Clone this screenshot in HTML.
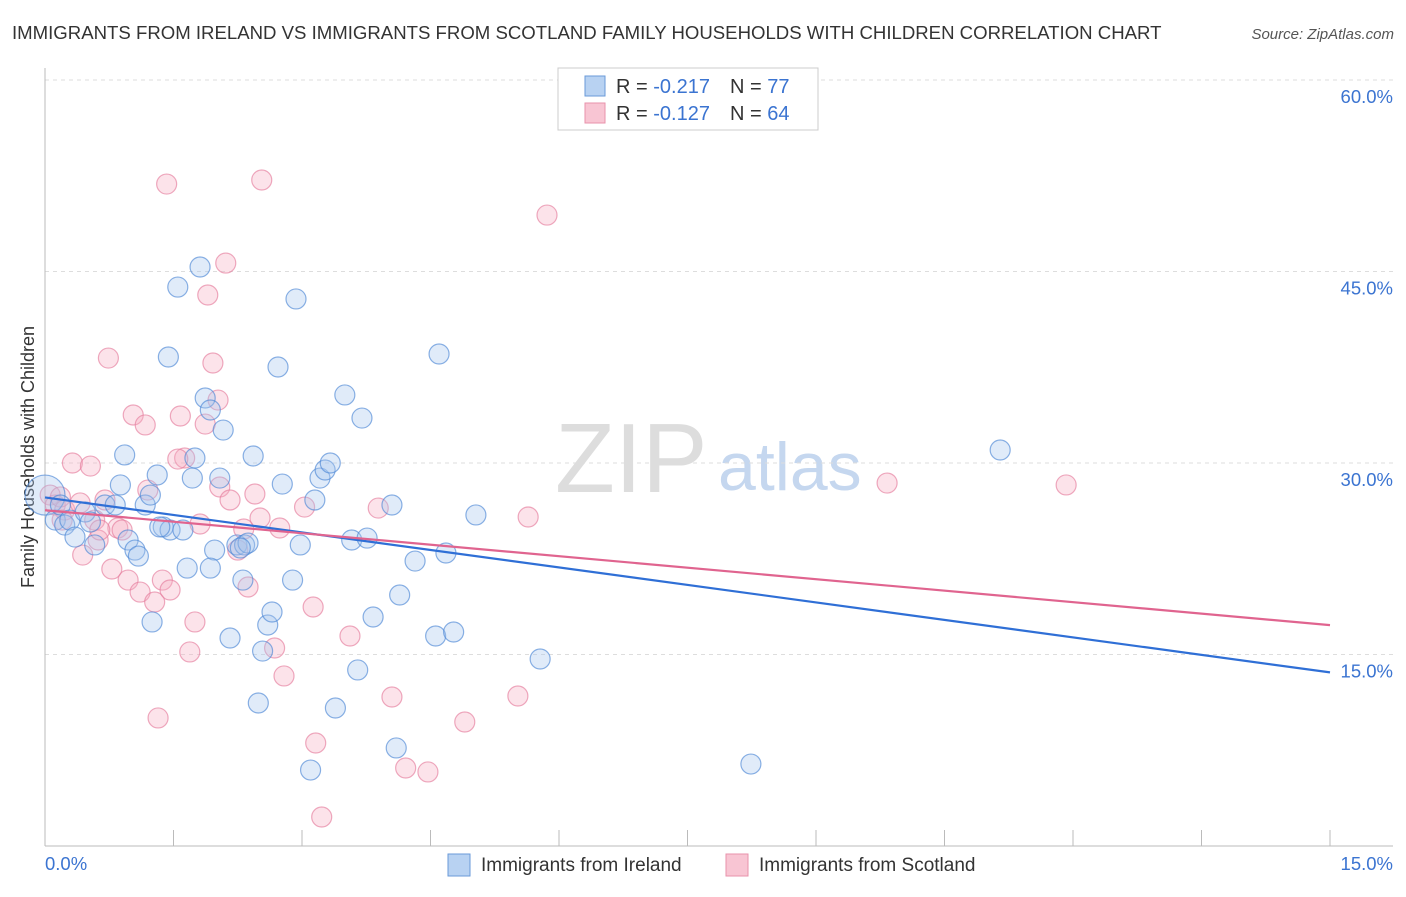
<!DOCTYPE html>
<html><head><meta charset="utf-8"><style>
body{margin:0;background:#fff;font-family:"Liberation Sans",sans-serif;}
svg text{font-family:"Liberation Sans",sans-serif;}
</style></head><body>
<svg id="chart" width="1406" height="892">
<text x="12" y="39" font-size="18.6" fill="#333">IMMIGRANTS FROM IRELAND VS IMMIGRANTS FROM SCOTLAND FAMILY HOUSEHOLDS WITH CHILDREN CORRELATION CHART</text>
<text x="1394" y="39" font-size="15" fill="#555" font-style="italic" text-anchor="end">Source: ZipAtlas.com</text>
<text x="34" y="457" font-size="18" fill="#333" text-anchor="middle" transform="rotate(-90 34 457)">Family Households with Children</text>
<text x="555" y="492" font-size="98" fill="#ddd" font-family="Liberation Serif">ZIP</text>
<text x="718" y="490" font-size="68" fill="#c5d7ef">atlas</text>
<g id="grid"></g><g id="marks"></g>
<g>
<rect x="558" y="68" width="260" height="62" fill="#fff" stroke="#ccc"/>
<rect x="585" y="76" width="20" height="20" fill="#b8d2f2" stroke="#6a9ad8"/>
<rect x="585" y="103" width="20" height="20" fill="#f8c5d3" stroke="#e892ab"/>
<text x="616" y="93" font-size="20" fill="#333">R = <tspan fill="#3b74d1">-0.217</tspan><tspan x="730">N = </tspan><tspan fill="#3b74d1">77</tspan></text>
<text x="616" y="120" font-size="20" fill="#333">R = <tspan fill="#3b74d1">-0.127</tspan><tspan x="730">N = </tspan><tspan fill="#3b74d1">64</tspan></text>
</g>
<g>
<rect x="448" y="854" width="22" height="22" fill="#b8d2f2" stroke="#6a9ad8"/>
<text x="481" y="871" font-size="19" fill="#333">Immigrants from Ireland</text>
<rect x="726" y="854" width="22" height="22" fill="#f8c5d3" stroke="#e892ab"/>
<text x="759" y="871" font-size="19" fill="#333">Immigrants from Scotland</text>
</g>
</svg>
<script>
const yTicks=[15,30,45,60];
const xTickLabels=["0.0%","15.0%"];
const blueX=[0,0.12,0.18,0.23,0.29,0.35,0.47,0.53,0.58,0.70,0.82,0.88,0.93,0.97,1.05,1.09,1.17,1.23,1.25,1.31,1.38,1.46,1.44,1.55,1.61,1.66,1.72,1.75,1.81,1.87,1.93,1.98,2.04,2.08,2.16,2.24,2.31,2.33,2.37,2.43,2.49,2.54,2.60,2.65,2.72,2.77,2.89,2.93,2.98,3.15,3.21,3.27,3.33,3.39,3.50,3.58,3.65,3.70,3.76,3.83,4.05,4.10,4.14,4.32,4.56,4.60,4.68,4.77,5.03,5.78,8.24,11.15,3.10,1.34,1.93,2.28];
const blueY=[27.49,25.53,26.71,25.14,25.53,24.20,26.16,25.38,23.58,26.71,26.71,28.28,30.63,23.97,23.18,22.71,26.71,27.49,17.55,29.06,24.99,24.75,38.30,43.78,24.75,21.77,28.82,30.39,45.35,35.09,34.15,23.18,28.82,32.58,16.29,23.58,20.83,23.58,23.73,30.55,11.20,15.27,17.31,18.33,37.52,28.35,20.83,42.85,23.58,27.10,28.82,29.45,30.00,10.81,35.33,23.97,13.79,33.52,24.12,17.94,26.71,7.68,19.66,22.32,16.45,38.54,22.95,16.76,25.93,14.65,6.42,31.02,5.95,24.99,21.77,23.34];
const pinkX=[0.06,0.12,0.18,0.23,0.32,0.41,0.44,0.53,0.58,0.62,0.70,0.74,0.78,0.85,0.90,0.97,1.03,1.11,1.17,1.20,1.28,1.32,1.37,1.42,1.46,1.58,1.63,1.75,1.69,1.81,1.87,1.90,1.96,2.02,2.04,2.11,2.16,2.25,2.32,2.37,2.45,2.51,2.53,2.68,2.74,2.79,3.03,3.13,3.16,3.23,3.56,3.89,4.05,4.21,4.47,4.90,5.52,5.64,5.86,9.83,11.92,0.20,0.64,1.55];
const pinkY=[27.49,26.71,27.34,26.32,30.00,26.87,22.79,29.76,25.53,23.97,27.10,38.22,21.70,24.91,24.75,20.83,33.76,19.89,32.98,27.88,19.11,10.03,20.83,51.85,20.05,33.68,30.39,17.55,15.20,25.22,33.05,43.16,37.83,34.93,28.12,45.66,27.10,23.18,24.83,20.29,27.57,25.69,52.17,15.51,24.91,13.32,26.55,18.72,8.07,2.27,16.45,26.47,11.67,6.11,5.80,9.71,11.75,25.77,49.42,28.43,28.28,25.53,24.75,30.31];
const blueTrend=[27.3,13.6];
const pinkTrend=[26.3,17.3];
const NS="http://www.w3.org/2000/svg";
const xs=v=>45+v/15*1285, ys=v=>846-v/60*766;
const grid=document.getElementById('grid'), marks=document.getElementById('marks');
function mk(tag,attrs,parent){const e=document.createElementNS(NS,tag);for(const k in attrs)e.setAttribute(k,attrs[k]);parent.appendChild(e);return e;}
yTicks.forEach(t=>{
 const l=mk('line',{x1:45,x2:1393,y1:ys(t),y2:ys(t),stroke:'#ddd','stroke-dasharray':'4,4'},grid);
 
 
 const tx=mk('text',{x:1393,y:ys(t)+23,'font-size':18.5,fill:'#3b74d1','text-anchor':'end'},grid);
 tx.textContent=t.toFixed(1)+'%';
 
 
});
const ax=mk('line',{x1:45,x2:1393,y1:846,y2:846,stroke:'#bbb'},grid);


const ay=mk('line',{x1:45,x2:45,y1:68,y2:846,stroke:'#bbb'},grid);


for(let i=1;i<=10;i++){const v=i*1.5;const t=mk('line',{x1:xs(v),x2:xs(v),y1:830,y2:846,stroke:'#bbb'},grid);
 
 }
[[0,xTickLabels[0],'start',45],[15,xTickLabels[1],'end',1393]].forEach(a=>{
 const tx=mk('text',{x:a[3],y:870,'font-size':18.5,fill:'#3b74d1','text-anchor':a[2]},grid);
 tx.textContent=a[1];
 
 
});
function dots(X,Y,fill,stroke,name){X.forEach((x,i)=>{
 const r=(x===0&&name==='ireland-point')?20:10;
 const c=mk('circle',{cx:xs(x),cy:ys(Y[i]),r:r,fill:fill,'fill-opacity':0.35,stroke:stroke,'stroke-opacity':0.65,'stroke-width':1.2},marks);
 
 
});}
dots(pinkX,pinkY,'#f5aec3','#e57c9d','scotland-point');
dots(blueX,blueY,'#a6c6ee','#4d87d6','ireland-point');
const bl=mk('line',{x1:xs(0),y1:ys(blueTrend[0]),x2:xs(15),y2:ys(blueTrend[1]),stroke:'#2f6fd6','stroke-width':2.2},marks);


const pl=mk('line',{x1:xs(0),y1:ys(pinkTrend[0]),x2:xs(15),y2:ys(pinkTrend[1]),stroke:'#e0648f','stroke-width':2.2},marks);


</script>
</body></html>
